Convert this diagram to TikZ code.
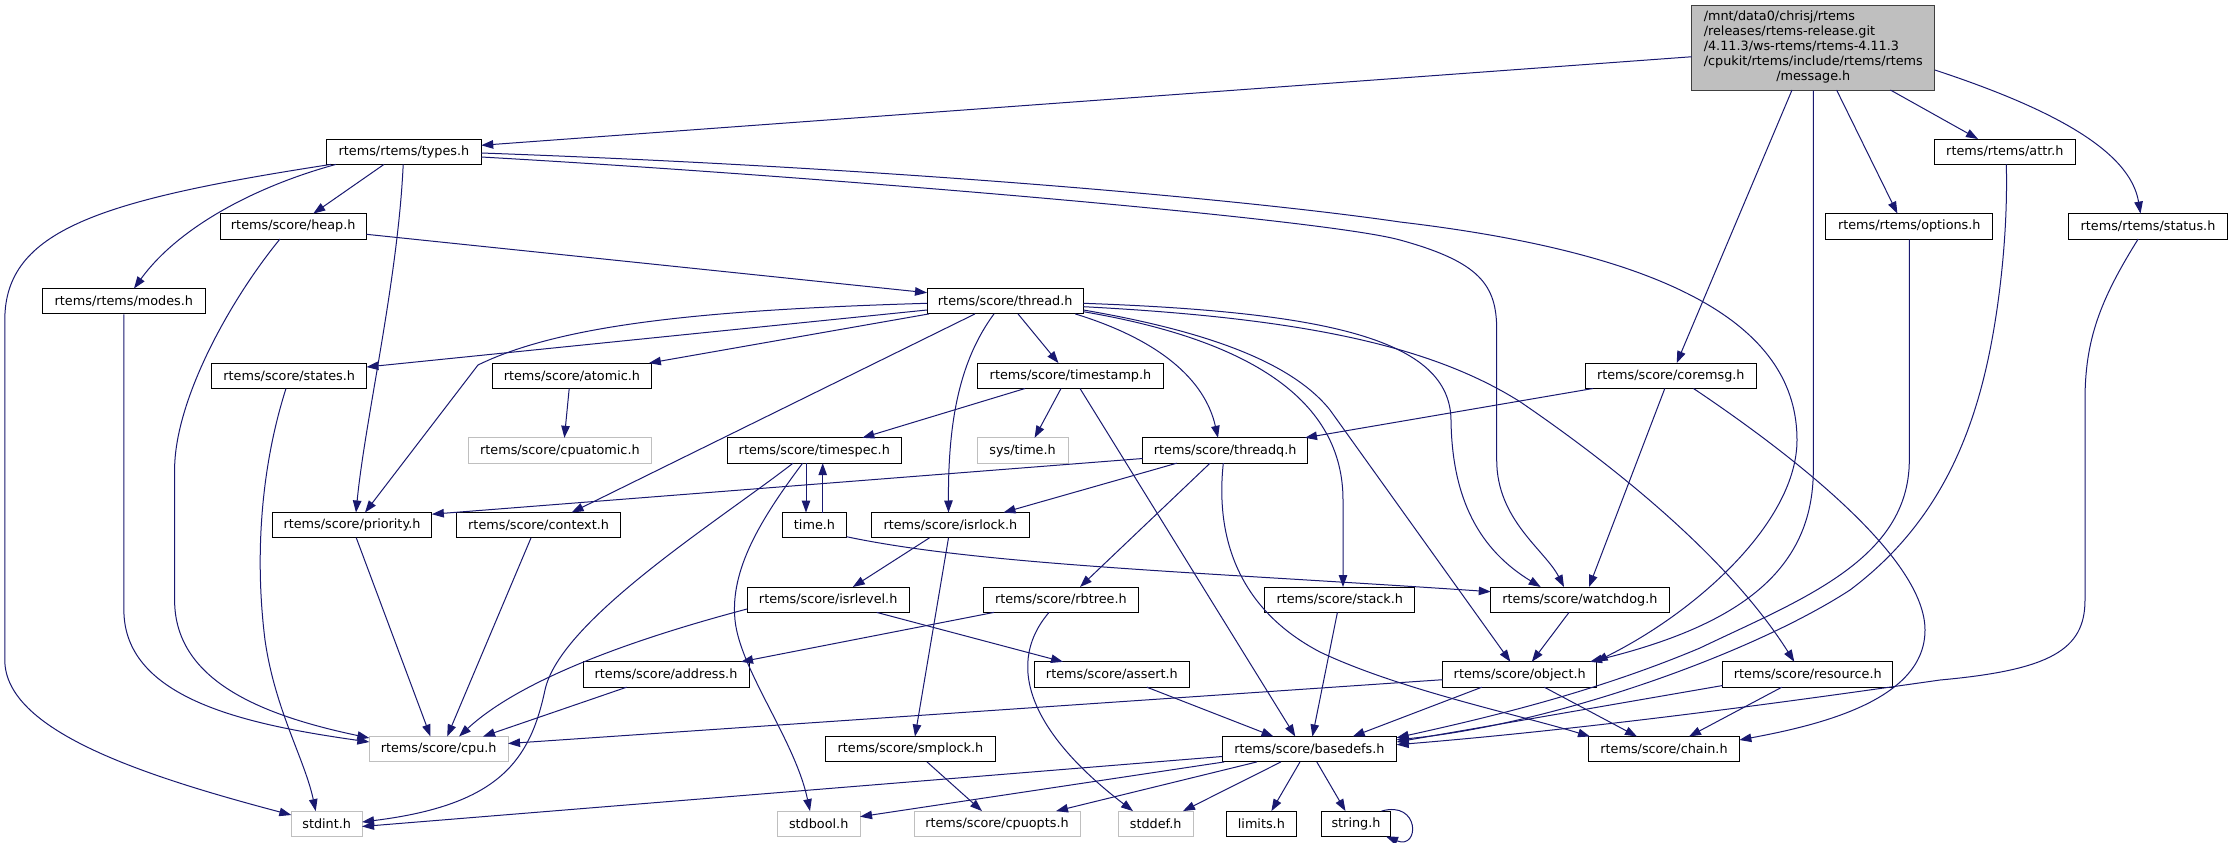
\documentclass[tikz,border=0pt]{standalone}
\usepackage{fontspec}
\setmainfont{DejaVu Sans}
\usetikzlibrary{arrows.meta,calc}
\definecolor{navy}{HTML}{191970}
\definecolor{gbord}{HTML}{BFBFBF}
\definecolor{mainfill}{HTML}{BFBFBF}
\definecolor{mainbord}{HTML}{404040}
\newcommand\nfont{\fontsize{12.8}{15}\selectfont}
\begin{document}
\begin{tikzpicture}[x=1pt,y=-1pt,
  nd/.style={draw=black, line width=1pt, fill=white, minimum height=25.4pt, inner sep=0pt, font=\nfont},
  gnd/.style={nd, draw=gbord},
  edge/.style={draw=navy, line width=1pt, -{Triangle[length=12pt,width=8.5pt]}},
]
\fill[white] (0,0) rectangle (2233,843);
\useasboundingbox (0,0) rectangle (2233,843);

\node[nd, fill=mainfill, draw=mainbord, minimum width=243.1pt, minimum height=84.3pt] (main) at (1813.3,47.85)
 {\begin{tabular}{@{}l@{}}/mnt/data0/chrisj/rtems\\/releases/rtems-release.git\\/4.11.3/ws-rtems/rtems-4.11.3\\/cpukit/rtems/include/rtems/rtems\\\multicolumn{1}{@{}c@{}}{/message.h}\end{tabular}};
\node[nd, minimum width=154.5pt] (types) at (404,151.7) {rtems/rtems/types.h};
\node[nd, minimum width=140.2pt] (attr) at (2004.9,151.7) {rtems/rtems/attr.h};
\node[nd, minimum width=146.4pt] (heap) at (293.2,226.3) {rtems/score/heap.h};
\node[nd, minimum width=166.9pt] (options) at (1909.3,226.3) {rtems/rtems/options.h};
\node[nd, minimum width=159pt] (status) at (2148,226.3) {rtems/rtems/status.h};
\node[nd, minimum width=162.6pt] (modes) at (123.9,301.2) {rtems/rtems/modes.h};
\node[nd, minimum width=156.4pt] (thread) at (1005.2,301.2) {rtems/score/thread.h};
\node[nd, minimum width=154.5pt] (states) at (289.2,375.8) {rtems/score/states.h};
\node[nd, minimum width=159.3pt] (atomic) at (571.9,375.8) {rtems/score/atomic.h};
\node[nd, minimum width=186.5pt] (timestamp) at (1070.5,375.8) {rtems/score/timestamp.h};
\node[nd, minimum width=170.7pt] (coremsg) at (1670.8,375.8) {rtems/score/coremsg.h};
\node[gnd, minimum width=183.2pt] (cpuatomic) at (559.9,450.5) {rtems/score/cpuatomic.h};
\node[nd, minimum width=174.6pt] (timespec) at (814.3,450.5) {rtems/score/timespec.h};
\node[gnd, minimum width=90.8pt] (systime) at (1022.6,450.5) {sys/time.h};
\node[nd, minimum width=165pt] (threadq) at (1225.2,450.5) {rtems/score/threadq.h};
\node[nd, minimum width=159.7pt] (priority) at (352,525.2) {rtems/score/priority.h};
\node[nd, minimum width=163.6pt] (context) at (538.6,525.2) {rtems/score/context.h};
\node[nd, minimum width=64.1pt] (timeh) at (814.5,525.2) {time.h};
\node[nd, minimum width=157.8pt] (isrlock) at (950.4,525.2) {rtems/score/isrlock.h};
\node[nd, minimum width=162.3pt] (isrlevel) at (828.2,599.7) {rtems/score/isrlevel.h};
\node[nd, minimum width=155pt] (rbtree) at (1060.9,599.7) {rtems/score/rbtree.h};
\node[nd, minimum width=150.2pt] (stack) at (1339.8,599.7) {rtems/score/stack.h};
\node[nd, minimum width=178.3pt] (watchdog) at (1579.9,599.7) {rtems/score/watchdog.h};
\node[nd, minimum width=166pt] (address) at (666,674.5) {rtems/score/address.h};
\node[nd, minimum width=154.5pt] (assert) at (1111.9,674.5) {rtems/score/assert.h};
\node[nd, minimum width=154.2pt] (object) at (1519.7,674.5) {rtems/score/object.h};
\node[nd, minimum width=170.3pt] (resource) at (1807.8,674.5) {rtems/score/resource.h};
\node[gnd, minimum width=138.7pt] (cpu) at (438.7,749.2) {rtems/score/cpu.h};
\node[nd, minimum width=170.8pt] (smplock) at (910.5,749.2) {rtems/score/smplock.h};
\node[nd, minimum width=174.6pt] (basedefs) at (1309.4,749.2) {rtems/score/basedefs.h};
\node[nd, minimum width=150.7pt] (chain) at (1664,749.2) {rtems/score/chain.h};
\node[gnd, minimum width=70.7pt] (stdint) at (326.7,823.8) {stdint.h};
\node[gnd, minimum width=82.7pt] (stdbool) at (818.7,823.8) {stdbool.h};
\node[gnd, minimum width=166pt] (cpuopts) at (997,823.8) {rtems/score/cpuopts.h};
\node[gnd, minimum width=74.7pt] (stddef) at (1155.7,823.8) {stddef.h};
\node[nd, minimum width=70.7pt] (limits) at (1261.4,823.8) {limits.h};
\node[nd, minimum width=69.9pt] (string) at (1356,823.8) {string.h};

% main
\draw[edge] ($(main)+(-121.6,8.9)$) -- ($(types)+(77.25,-6.4)$);
\draw[edge] ($(main)+(-21.3,42.15)$) -- ($(coremsg)+(5.9,-12.7)$);
\draw[edge] (main.south) -- (1813.3,470) .. controls (1813.3,570) and (1740,625) .. ($(object)+(70.3,-12.7)$);
\draw[edge] ($(main)+(23.3,42.15)$) -- ($(options)+(-11.9,-12.7)$);
\draw[edge] ($(main)+(77.1,42.15)$) -- ($(attr)+(-26.9,-12.7)$);
\draw[edge] ($(main)+(121.55,22.15)$) .. controls (2050,108) and (2130,150) .. ($(status)+(-7.5,-12.7)$);
% types
\draw[edge] ($(types)+(-20,12.7)$) -- ($(heap)+(20.1,-12.7)$);
\draw[edge] ($(types)+(-68,12.7)$) .. controls (260,185) and (180,225) .. ($(modes)+(10.1,-12.7)$);
\draw[edge] ($(types)+(-73,12.7)$) .. controls (100,200) and (4.8,230) .. (4.8,320) -- (4.8,660) .. controls (4.8,730) and (140,775) .. ($(stdint)+(-35.35,-8.8)$);
\draw[edge] ($(types)+(-0.8,12.7)$) .. controls (398,280) and (365,420) .. ($(priority)+(4,-12.7)$);
\draw[edge] ($(types)+(77.25,5.3)$) .. controls (800,175) and (1320,218) .. (1400,240) .. controls (1480,262) and (1496.7,285) .. (1496.7,330) -- (1496.7,460) .. controls (1496.7,520) and (1545,550) .. ($(watchdog)+(-15.9,-12.7)$);
\draw[edge] ($(types)+(77.25,1.3)$) .. controls (900,168) and (1250,200) .. (1400,222) .. controls (1680,255) and (1797,330) .. (1797,440) .. controls (1797,520) and (1700,610) .. ($(object)+(76,-12.7)$);
% heap, modes
\draw[edge] ($(heap)+(73.2,8)$) -- ($(thread)+(-78.2,-8.5)$);
\draw[edge] ($(heap)+(-13.2,12.7)$) .. controls (230,300) and (174.6,400) .. (174.6,470) -- (174.6,600) .. controls (174.6,680) and (260,715) .. ($(cpu)+(-69.35,-11.2)$);
\draw[edge] (modes.south) -- (123.9,610) .. controls (123.9,700) and (250,725) .. ($(cpu)+(-69.35,-7.2)$);
% thread
\draw[edge] ($(thread)+(-78.2,8.8)$) -- ($(states)+(77.25,-8.8)$);
\draw[edge] ($(thread)+(-78.2,2.1)$) .. controls (700,310) and (560,325) .. (478,365) -- ($(priority)+(13,-12.7)$);
\draw[edge] ($(thread)+(-76.2,12.7)$) -- ($(atomic)+(77,-12.7)$);
\draw[edge] ($(thread)+(-30.2,12.7)$) -- ($(context)+(33,-12.7)$);
\draw[edge] ($(thread)+(-11.2,12.7)$) .. controls (960,360) and (948,420) .. ($(isrlock)+(-1.9,-12.7)$);
\draw[edge] ($(thread)+(12.8,12.7)$) -- ($(timestamp)+(-12,-12.7)$);
\draw[edge] ($(thread)+(70,12.7)$) .. controls (1160,340) and (1205,380) .. ($(threadq)+(-7.2,-12.7)$);
\draw[edge] ($(thread)+(78.2,10.5)$) .. controls (1250,340) and (1343,400) .. (1343,500) -- ($(stack)+(3.2,-12.7)$);
\draw[edge] ($(thread)+(78.2,8.8)$) .. controls (1200,330) and (1290,360) .. (1330,410) -- ($(object)+(-9.3,-12.7)$);
\draw[edge] ($(thread)+(78.2,2.1)$) .. controls (1330,312) and (1450,340) .. (1451,420) .. controls (1452,500) and (1480,550) .. ($(watchdog)+(-39.2,-12.7)$);
\draw[edge] ($(thread)+(78.2,5.5)$) .. controls (1300,318) and (1430,345) .. (1520,401.7) .. controls (1620,470) and (1730,560) .. ($(resource)+(-13.5,-12.7)$);
% states, atomic, timestamp
\draw[edge] ($(states)+(-3.2,12.7)$) .. controls (260,470) and (255,560) .. (265,640) .. controls (275,710) and (305,760) .. ($(stdint)+(-11,-12.7)$);
\draw[edge] ($(atomic)+(-2.7,12.7)$) -- ($(cpuatomic)+(4.5,-12.7)$);
\draw[edge] ($(timestamp)+(-45.5,12.7)$) -- ($(timespec)+(48.1,-12.7)$);
\draw[edge] ($(timestamp)+(-9.5,12.7)$) -- ($(systime)+(12,-12.7)$);
\draw[edge] ($(timestamp)+(9.5,12.7)$) -- ($(basedefs)+(-14.1,-12.7)$);
% coremsg
\draw[edge] ($(coremsg)+(-77.8,12.7)$) -- ($(threadq)+(79.8,-12.7)$);
\draw[edge] ($(coremsg)+(-6,12.7)$) -- ($(watchdog)+(9.1,-12.7)$);
\draw[edge] ($(coremsg)+(22.7,12.7)$) .. controls (1800,460) and (1925,560) .. (1925,630) .. controls (1925,700) and (1820,725) .. ($(chain)+(75.35,-9.2)$);
% timespec, time.h
\draw[edge] ($(timespec)+(-8.3,12.7)$) -- ($(timeh)+(-8.5,-12.7)$);
\draw[edge] ($(timespec)+(-21.3,12.7)$) .. controls (720,520) and (560,620) .. (545,690) .. controls (530,760) and (500,805) .. ($(stdint)+(35.35,-1.8)$);
\draw[edge] ($(timespec)+(-11.7,12.7)$) .. controls (760,520) and (730,570) .. (735,620) .. controls (740,670) and (795,740) .. ($(stdbool)+(-8.7,-12.7)$);
\draw[edge] ($(timeh)+(8.2,-12.7)$) -- ($(timespec)+(8.4,12.7)$);
\draw[edge] ($(timeh)+(32,11.5)$) .. controls (980,565) and (1200,572) .. ($(watchdog)+(-89.15,-8)$);
% threadq
\draw[edge] ($(threadq)+(-82.5,8)$) -- ($(priority)+(79.85,-11)$);
\draw[edge] ($(threadq)+(-48.5,12.7)$) -- ($(isrlock)+(53.1,-12.7)$);
\draw[edge] ($(threadq)+(-15.2,12.7)$) -- ($(rbtree)+(19.1,-12.7)$);
\draw[edge] ($(threadq)+(-1.9,12.7)$) .. controls (1215,540) and (1240,610) .. (1320,652) .. controls (1400,690) and (1520,715) .. ($(chain)+(-74,-12.7)$);
% isrlock, isrlevel, rbtree
\draw[edge] ($(isrlock)+(-21,12.7)$) -- ($(isrlevel)+(24.6,-12.7)$);
\draw[edge] ($(isrlock)+(-1.9,12.7)$) -- ($(smplock)+(4.5,-12.7)$);
\draw[edge] ($(isrlevel)+(-81.15,9.3)$) .. controls (630,640) and (520,680) .. ($(cpu)+(20.3,-12.7)$);
\draw[edge] ($(isrlevel)+(48.5,12.7)$) -- ($(assert)+(-48.9,-12.7)$);
\draw[edge] ($(rbtree)+(-66.9,12.7)$) -- ($(address)+(75,-12.7)$);
\draw[edge] ($(rbtree)+(-11.9,12.7)$) .. controls (1000,670) and (1040,740) .. ($(stddef)+(-22.7,-12.7)$);
% stack, watchdog, address, assert
\draw[edge] ($(stack)+(-2.4,12.7)$) -- ($(basedefs)+(3,-12.7)$);
\draw[edge] ($(watchdog)+(-10.9,12.7)$) -- ($(object)+(12.1,-12.7)$);
\draw[edge] ($(address)+(-39.4,12.7)$) -- ($(cpu)+(44.3,-12.7)$);
\draw[edge] ($(assert)+(35,12.7)$) -- ($(basedefs)+(-35.9,-12.7)$);
% object, resource
\draw[edge] ($(object)+(-77.1,5.2)$) -- ($(cpu)+(69.35,-5.7)$);
\draw[edge] ($(object)+(-37.9,12.7)$) -- ($(basedefs)+(43.3,-12.7)$);
\draw[edge] ($(object)+(24.6,12.7)$) -- ($(chain)+(-27,-12.7)$);
\draw[edge] ($(resource)+(-85.15,11)$) -- ($(basedefs)+(87.3,-7.2)$);
\draw[edge] ($(resource)+(-26,12.7)$) -- ($(chain)+(25,-12.7)$);
% smplock, priority, context
\draw[edge] ($(smplock)+(16.5,12.7)$) -- ($(cpuopts)+(-15,-12.7)$);
\draw[edge] ($(priority)+(4.3,12.7)$) -- ($(cpu)+(-8.2,-12.7)$);
\draw[edge] ($(context)+(-7.6,12.7)$) -- ($(cpu)+(8.5,-12.7)$);
% basedefs
\draw[edge] ($(basedefs)+(-87.3,7.3)$) -- ($(stdint)+(35.35,2.7)$);
\draw[edge] ($(basedefs)+(-85,12.7)$) -- ($(stdbool)+(41.35,-7.1)$);
\draw[edge] ($(basedefs)+(-52.4,12.7)$) -- ($(cpuopts)+(59,-12.7)$);
\draw[edge] ($(basedefs)+(-28.4,12.7)$) -- ($(stddef)+(27.3,-12.7)$);
\draw[edge] ($(basedefs)+(-9.4,12.7)$) -- ($(limits)+(10,-12.7)$);
\draw[edge] ($(basedefs)+(7.4,12.7)$) -- ($(string)+(-10.5,-12.7)$);
\draw[edge] ($(string)+(25.4,-12.7)$) .. controls (1420,800) and (1420,850) .. ($(string)+(30,12.7)$);
% options, attr, status
\draw[edge] (options.south) -- (1909.3,460) .. controls (1909.3,560) and (1800,600) .. (1700,648) .. controls (1600,690) and (1500,715) .. ($(basedefs)+(87.3,-11.5)$);
\draw[edge] ($(attr)+(1.4,12.7)$) .. controls (2008,230) and (2000,300) .. (1990,350) .. controls (1970,450) and (1930,530) .. (1850,590) .. controls (1750,655) and (1550,725) .. ($(basedefs)+(87.3,-9.5)$);
\draw[edge] ($(status)+(-9.8,12.7)$) .. controls (2100,300) and (2085,340) .. (2085,400) -- (2085,600) .. controls (2085,650) and (2050,670) .. (1940,680) .. controls (1800,700) and (1600,728) .. ($(basedefs)+(87.3,-4.5)$);
\end{tikzpicture}
\end{document}
